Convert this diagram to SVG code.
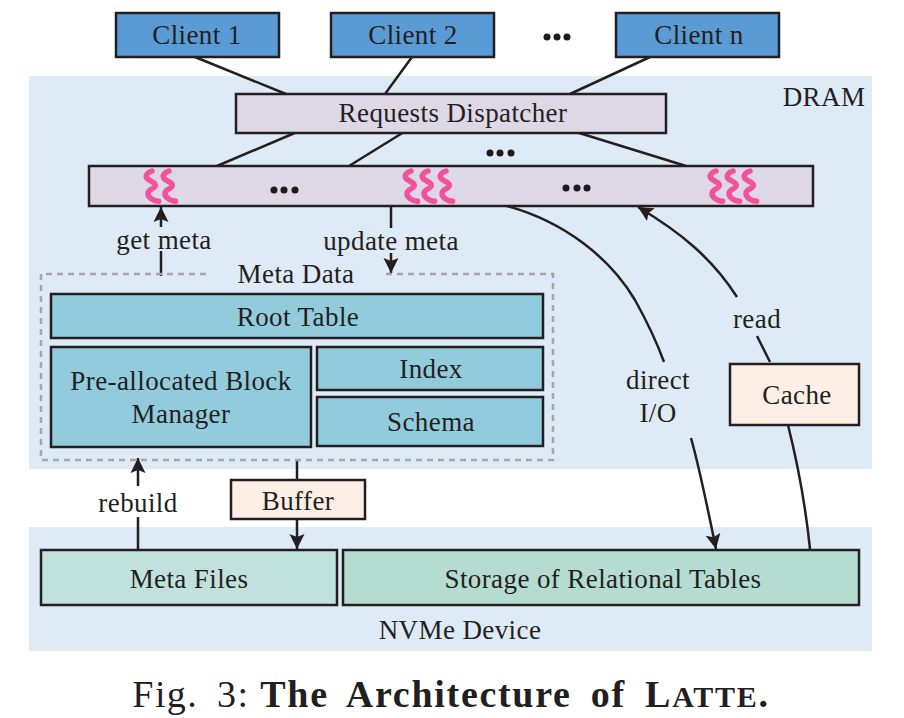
<svg xmlns="http://www.w3.org/2000/svg" width="904" height="718" viewBox="0 0 904 718">
<defs>
<marker id="arr" markerUnits="userSpaceOnUse" markerWidth="18" markerHeight="18" refX="15" refY="8" orient="auto"><path d="M0 0.5L15 8L0 15.5L3 8Z" fill="#231f20"/></marker>
<path id="sq" d="M0 0C-3 1 -6 3 -5.7 6C-5 10 3 10 3.3 14.3C3.5 18 -4 18 -4 22.6C-4 27 2 30 6.6 30.3" fill="none" stroke="#f4519c" stroke-width="5.5" stroke-linecap="round"/>
</defs>
<style>
text{font-family:"Liberation Serif","Times New Roman",serif;font-size:27px;fill:#231f20;text-anchor:middle;letter-spacing:.4px}
.b{stroke:#231f20;stroke-width:2.5}
.l{fill:none;stroke:#231f20;stroke-width:2.5}
.c{fill:#5b9bd5}.p{fill:#ddd7e6}.t{fill:#92ccdc}.o{fill:#fdefe6}
.d{fill:#1f1a1c}
</style>
<rect width="904" height="718" fill="#fff"/>
<rect x="29" y="76" width="843" height="393" fill="#deeaf6"/>
<rect x="29" y="527" width="843" height="124" fill="#deeaf6"/>
<text x="824" y="106">DRAM</text>
<text x="460" y="639">NVMe Device</text>
<g id="connectors">
<path class="l" d="M195 57L286 94M412 57L385 94M650 57L570 94"/>
<path class="l" d="M297 132L217 166M404 132L349 166M576 132L686 166"/>
<path class="l" d="M161 276V251"/><path class="l" d="M161 227V207" marker-end="url(#arr)"/>
<path class="l" d="M391 207V228"/><path class="l" d="M391 253V273" marker-end="url(#arr)"/>
<path class="l" d="M507 206C565 222 610 258 635 300C645 318 656 340 664 362"/>
<path class="l" d="M691 438C700 470 708 510 716 549" marker-end="url(#arr)"/>
<path class="l" d="M770 362L757 336"/>
<path class="l" d="M737 297C712 258 680 232 638 207" marker-end="url(#arr)"/>
<path class="l" d="M788 425C798 465 806 510 810 549"/>
<path class="l" d="M138 549V517"/><path class="l" d="M138 486V458" marker-end="url(#arr)"/>
<path class="l" d="M297 459V480"/><path class="l" d="M297 520V549" marker-end="url(#arr)"/>
</g>
<g id="client1"><rect class="b c" x="116" y="13" width="163" height="44"/><text x="197" y="44">Client 1</text></g>
<g id="client2"><rect class="b c" x="331" y="13" width="163" height="44"/><text x="413" y="44">Client 2</text></g>
<g id="clientdots"><circle class="d" cx="547" cy="37" r="3.5"/><circle class="d" cx="557" cy="37" r="3.5"/><circle class="d" cx="567" cy="37" r="3.5"/></g>
<g id="clientn"><rect class="b c" x="616" y="13" width="163" height="44"/><text x="699" y="44">Client n</text></g>
<g id="dispatcher"><rect class="b p" x="236" y="94" width="430" height="39"/><text x="453" y="122">Requests Dispatcher</text></g>
<g id="dots2"><circle class="d" cx="490" cy="153" r="3.5"/><circle class="d" cx="500" cy="153" r="3.5"/><circle class="d" cx="511" cy="153" r="3.5"/></g>
<g id="threads"><rect class="b p" x="89" y="166" width="724" height="40"/>
<use href="#sq" x="152" y="171"/><use href="#sq" x="169" y="171"/>
<circle class="d" cx="274" cy="190" r="3.5"/><circle class="d" cx="284" cy="190" r="3.5"/><circle class="d" cx="295" cy="190" r="3.5"/>
<use href="#sq" x="411" y="171"/><use href="#sq" x="428" y="171"/><use href="#sq" x="446" y="171"/>
<circle class="d" cx="566" cy="188" r="3.5"/><circle class="d" cx="577" cy="188" r="3.5"/><circle class="d" cx="587" cy="188" r="3.5"/>
<use href="#sq" x="716" y="171"/><use href="#sq" x="733" y="171"/><use href="#sq" x="750" y="171"/></g>
<text x="164" y="249">get meta</text>
<text x="391" y="250">update meta</text>
<g id="metadata"><path d="M206 274H41V460H553V274H385" fill="none" stroke="#a5a5a5" stroke-width="2.5" stroke-dasharray="6 5"/>
<text x="296" y="283">Meta Data</text></g>
<g id="root"><rect class="b t" x="51" y="294" width="492" height="44"/><text x="298" y="326">Root Table</text></g>
<g id="pba"><rect class="b t" x="51" y="347" width="260" height="100"/><text x="181" y="390">Pre-allocated Block</text><text x="181" y="423">Manager</text></g>
<g id="index"><rect class="b t" x="317" y="347" width="226" height="43"/><text x="431" y="378">Index</text></g>
<g id="schema"><rect class="b t" x="317" y="397" width="226" height="49"/><text x="431" y="431">Schema</text></g>
<g id="buffer"><rect class="b o" x="231" y="480" width="134" height="39"/><text x="298" y="510">Buffer</text></g>
<g id="cache"><rect class="b o" x="730" y="364" width="129" height="61"/><text x="797" y="404">Cache</text></g>
<text x="138" y="512">rebuild</text>
<text x="757" y="328">read</text>
<text x="658" y="389">direct</text>
<text x="658" y="422">I/O</text>
<g id="metafiles"><rect class="b" fill="#c0e1dc" x="41" y="550" width="296" height="55"/><text x="189" y="588">Meta Files</text></g>
<g id="storage"><rect class="b" fill="#b5dcd1" x="343" y="550" width="516" height="55"/><text x="603" y="588">Storage of Relational Tables</text></g>
<text x="451" y="707" style="font-size:38px;letter-spacing:1.4px;word-spacing:8px">Fig. 3: <tspan dx="-8" font-weight="bold" style="letter-spacing:1.7px">The Architecture of L<tspan style="font-size:30px">ATTE</tspan>.</tspan></text>
</svg>
